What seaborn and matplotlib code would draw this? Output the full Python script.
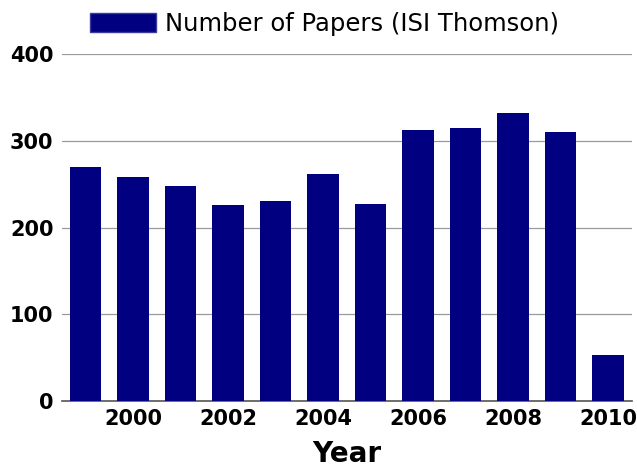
"""
Bar chart: number of papers per year (ISI Thomson), 1999-2010.
"""

## Import packages
import pandas as pd
import matplotlib
matplotlib.use('Agg')
import matplotlib.pyplot as plt
import seaborn as sns
from matplotlib.patches import Patch


## Prepare data
years = ['1999', '2000', '2001', '2002', '2003', '2004',
         '2005', '2006', '2007', '2008', '2009', '2010']
papers = [270, 258, 248, 226, 230, 262, 227, 312, 315, 332, 310, 53]
y_ticks = [0, 100, 200, 300, 400]
series_label = 'Number of Papers (ISI Thomson)'

df = pd.DataFrame({'year': years, 'papers': papers})


## Define parameters for figure
bar_color = '#000080'
tick_size = 15
label_size = 20
legend_size = 17.5


## Plot data using seaborn module
sns.set_theme(style='white')
plt.rcParams['font.family'] = ['DejaVu Sans']
plt.rcParams['text.color'] = 'black'
plt.rcParams['xtick.color'] = 'black'
plt.rcParams['ytick.color'] = 'black'
plt.rcParams['axes.labelcolor'] = 'black'

fig = plt.figure(figsize=(6.37, 4.74), dpi=100)
ax = fig.add_axes([0.097, 0.154, 0.895, 0.732])

sns.barplot(data=df, x='year', y='papers', color=bar_color, width=0.66,
            saturation=1, linewidth=0, edgecolor='none', ax=ax, zorder=3)

# Axes limits and grid
ax.set_ylim(0, 400)
ax.set_xlim(-0.5, len(years) - 0.5)
ax.set_yticks(y_ticks)
ax.set_yticklabels([str(t) for t in y_ticks], fontsize=tick_size, fontweight='bold')
ax.yaxis.grid(True, color='#9a9a9a', linewidth=0.9, zorder=0)
ax.set_axisbelow(True)

# Only every second year is labelled
ax.set_xticks(range(len(years)))
ax.set_xticklabels([y if int(y) % 2 == 0 else '' for y in years],
                   fontsize=tick_size, fontweight='bold')
ax.tick_params(axis='both', length=0, pad=6)

# Spines
for side in ['top', 'right', 'left']:
    ax.spines[side].set_visible(False)
ax.spines['bottom'].set_color('#555555')
ax.spines['bottom'].set_linewidth(1.2)

# Labels
ax.set_xlabel('Year', fontsize=label_size, fontweight='bold', labelpad=8)
ax.set_ylabel('')


## Configure legend
legend_elements = [Patch(facecolor=bar_color, edgecolor='#3a3aa0', label=series_label)]
fig.legend(handles=legend_elements, loc='upper center', bbox_to_anchor=(0.509, 1.0),
           frameon=False, fontsize=legend_size, handlelength=2.75, handleheight=0.85,
           handletextpad=0.35, borderaxespad=0.1)


# Save figure
plt.savefig('out.png', dpi=100)
